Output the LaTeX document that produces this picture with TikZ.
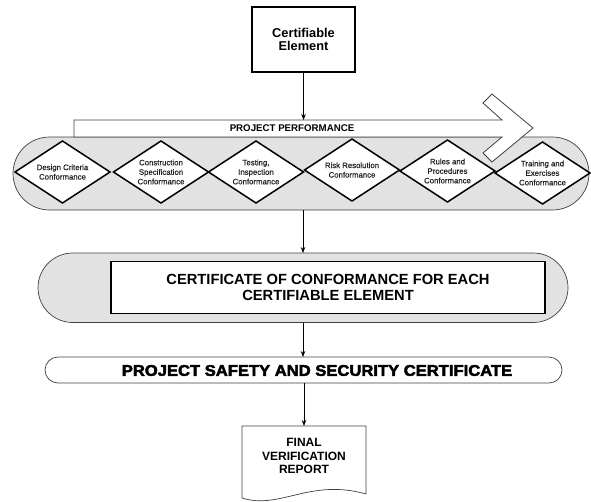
\documentclass[tikz,border=0pt]{standalone}
\usepackage{fontspec}
\setmainfont{Liberation Sans}
\newfontfamily\heavyfont{Liberation Sans}[BoldFeatures={FakeBold=3,FakeStretch=1.07}]
\newfontfamily\diafont{Liberation Sans}[FakeBold=0.6]
\usetikzlibrary{shapes.geometric,arrows.meta}
\definecolor{pillgray}{RGB}{226,226,226}
\begin{document}
\begin{tikzpicture}[x=1pt,y=-1pt,
  thickbox/.style={draw=black, line width=1.8pt, fill=white, inner sep=0pt, outer sep=0pt, align=center},
  greypill/.style={draw=black!75, line width=0.7pt, fill=pillgray, inner sep=0pt, outer sep=0pt},
  whitepill/.style={draw=black!75, line width=0.7pt, fill=white, inner sep=0pt, outer sep=0pt},
  dia/.style={diamond, draw=black, line width=1.5pt, fill=white, aspect=1.53, inner sep=0pt, outer sep=0pt,
    minimum width=95pt, minimum height=62pt, align=center, font=\diafont\fontsize{7.8}{9.5}\selectfont, text=black!85},
  arr/.style={-{Stealth[length=6pt,width=4.5pt]}, line width=0.7pt, draw=black},
  bandline/.style={draw=black!75, line width=0.8pt, fill=white, line join=miter}
]
\useasboundingbox (0,0) rectangle (591,501);

% certifiable element
\node[thickbox, minimum width=103pt, minimum height=65pt,
  font=\fontsize{12.8}{13.5}\selectfont\bfseries] (ce) at (303.5,39.5) {Certifiable\\Element};

% grey band with diamonds
\node[greypill, rounded corners=36.5pt, minimum width=576pt, minimum height=73pt] (band) at (301,173.5) {};

% project performance arrow
\draw[bandline] (74,120) -- (502,120) -- (483,103) -- (492,94) -- (533,128)
  -- (492,162) -- (483,153) -- (502,137) -- (74,137) -- cycle;
\node[font=\fontsize{9.7}{10}\selectfont\bfseries] (pp) at (292,128.5) {PROJECT PERFORMANCE};
\coordinate (bandtop) at (303.5,120);

\node[dia] (d1) at (62.5,172) {Design Criteria\\Conformance};
\node[dia] (d2) at (161,172) {Construction\\Specification\\Conformance};
\node[dia] (d3) at (256,172) {Testing,\\Inspection\\Conformance};
\node[dia] (d4) at (352,170) {Risk Resolution\\Conformance};
\node[dia] (d5) at (447.5,171) {Rules and\\Procedures\\Conformance};
\node[dia] (d6) at (542.5,173) {Training and\\Exercises\\Conformance};

% certificate of conformance
\node[greypill, rounded corners=34.75pt, minimum width=530pt, minimum height=69.5pt] (certpill) at (303,287.75) {};
\node[thickbox, minimum width=434pt, minimum height=52pt,
  font=\fontsize{14.7}{16}\selectfont\bfseries] (cert) at (328,287.5)
  {CERTIFICATE OF CONFORMANCE FOR EACH\\CERTIFIABLE ELEMENT};

% safety certificate
\node[whitepill, rounded corners=13pt, minimum width=517pt, minimum height=26pt] (safe) at (303.5,370) {};
\node[font=\heavyfont\fontsize{15.5}{16}\selectfont\bfseries] (safetxt) at (317,370.5)
  {PROJECT SAFETY AND SECURITY CERTIFICATE};

% final report (document shape)
\draw[draw=black!75, line width=0.7pt, fill=white] (242,426) -- (366,426) -- (366,494)
  .. controls (310,478) and (280,510) .. (242,498) -- cycle;
\coordinate (doctop) at (304,426);
\node[font=\fontsize{12}{13.5}\selectfont\bfseries, align=center] (rep) at (304,456)
  {FINAL\\VERIFICATION\\REPORT};

% connectors
\draw[arr] (ce.south) -- (bandtop);
\draw[arr] (certpill.north |- band.south) -- (certpill.north);
\draw[arr] (certpill.south) -- (certpill.south |- safe.north);
\draw[arr] (doctop |- safe.south) -- (doctop);
\end{tikzpicture}
\end{document}
